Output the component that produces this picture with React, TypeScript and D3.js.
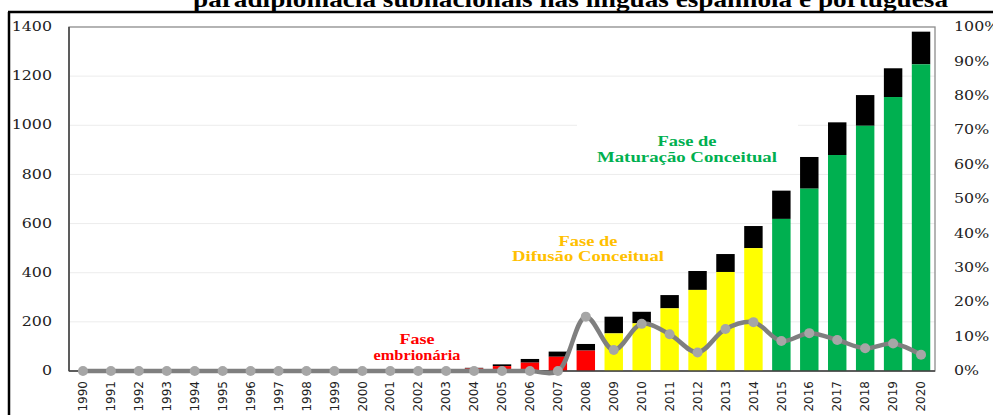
import * as d3 from 'd3'

const W = 993
const H = 415
// plot frame in pixels
const X0 = 69
const X1 = 935
const Y0 = 27
const Y1 = 371

const years = d3.range(1990, 2021).map(String)
// colored lower part of each bar (publications per phase)
const baseValues = [0, 0, 0, 0, 0, 0, 0, 0, 0, 0, 0, 0, 0, 2, 10, 20, 34, 58, 83, 153, 194, 255, 330, 403, 500, 619, 742, 879, 998, 1115, 1248]
// bar totals (black cap = total - base)
const totalValues = [0, 0, 0, 0, 0, 0, 0, 0, 0, 0, 0, 0, 0, 6, 13, 27, 49, 79, 110, 221, 241, 309, 407, 476, 590, 734, 871, 1012, 1123, 1232, 1381]
// growth rate line, right axis (%)
const pctValues = [0, 0, 0, 0, 0, 0, 0, 0, 0, 0, 0, 0, 0, 0, 0, 0, 0, 0, 15.8, 6.1, 13.7, 10.7, 5.4, 12.2, 14.2, 8.7, 11.0, 9.0, 6.6, 8.0, 4.7]

const leftTicks = [0, 200, 400, 600, 800, 1000, 1200, 1400]
const rightTicks = [0, 10, 20, 30, 40, 50, 60, 70, 80, 90, 100]

const RED = '#ff0000'
const YELLOW = '#ffff00'
const GREEN = '#00b050'

function phaseColor(year: number): string {
  if (year <= 2008) return RED
  if (year <= 2014) return YELLOW
  return GREEN
}

const LABEL_FONT = 'DejaVu Sans, sans-serif'
const TICK_FONT = 'DejaVu Serif, serif'
const SERIF = 'Liberation Serif, Times New Roman, serif'

export default function App() {
  const x = d3.scaleBand<string>().domain(years).range([X0, X1]).paddingInner(0.34).paddingOuter(0.17)
  const y = d3.scaleLinear().domain([0, 1400]).range([Y1, Y0])
  const yPct = d3.scaleLinear().domain([0, 100]).range([Y1, Y0])
  const bw = x.bandwidth()
  const cx = (yr: string) => (x(yr) ?? 0) + bw / 2

  const line = d3
    .line<number>()
    .x((_, i) => cx(years[i]))
    .y((d) => yPct(d))
    .curve(d3.curveCatmullRom.alpha(0.5))

  return (
    <div style={{ position: 'fixed', left: 0, top: 0 }}>
      <svg width={W} height={H} style={{ display: 'block', background: '#fff' }}>
        {/* title, cut off at top */}
        <text
          x={193}
          y={7}
          textLength={755}
          lengthAdjust="spacingAndGlyphs"
          fontFamily={SERIF}
          fontWeight="bold"
          fontSize={24}
          fill="#000"
        >
          paradiplomacia subnacionais nas línguas espanhola e portuguesa
        </text>
        {/* outer black frame */}
        <line x1={8} y1={12} x2={W} y2={12} stroke="#000" strokeWidth={2.5} />
        <line x1={9} y1={12} x2={9} y2={H} stroke="#000" strokeWidth={2.5} />

        {/* grid lines */}
        {leftTicks.slice(1, -1).map((t) => (
          <line key={t} x1={X0} x2={X1} y1={y(t)} y2={y(t)} stroke="#ececec" strokeWidth={1} />
        ))}

        {/* white box behind the maturation label */}
        <rect x={577} y={108} width={221} height={60} fill="#fff" />

        {/* plot frame */}
        <rect x={X0} y={Y0} width={X1 - X0} height={Y1 - Y0} fill="none" stroke="#8c8c8c" strokeWidth={1.3} />

        {/* stacked bars */}
        {years.map((yr, i) => {
          const total = totalValues[i]
          const base = baseValues[i]
          if (total <= 0) return null
          const bx = x(yr) ?? 0
          return (
            <g key={yr}>
              <rect x={bx} y={y(total)} width={bw} height={y(base) - y(total)} fill="#000" />
              {base > 0 && (
                <rect x={bx} y={y(base)} width={bw} height={y(0) - y(base)} fill={phaseColor(+yr)} />
              )}
            </g>
          )
        })}

        {/* axes lines */}
        <line x1={X0} x2={X0} y1={Y0} y2={Y1} stroke="#404040" strokeWidth={1.5} />
        <line x1={X0} x2={X1} y1={Y1} y2={Y1} stroke="#404040" strokeWidth={1.5} />

        {/* left axis labels */}
        {leftTicks.map((t) => (
          <text
            key={t}
            transform={`translate(52,${y(t)}) scale(1.32,1)`}
            dy="0.35em"
            textAnchor="end"
            fontFamily={TICK_FONT}
            fontSize={12}
            fill="#222"
          >
            {t}
          </text>
        ))}

        {/* right axis labels */}
        {rightTicks.map((t) => (
          <text
            key={t}
            transform={`translate(954,${yPct(t)}) scale(1.32,1)`}
            dy="0.35em"
            fontFamily={TICK_FONT}
            fontSize={12}
            fill="#222"
          >
            {t}%
          </text>
        ))}

        {/* x labels, rotated */}
        {years.map((yr) => (
          <text
            key={yr}
            transform={`translate(${cx(yr)},${Y1 + 10}) rotate(-90)`}
            textAnchor="end"
            dy="0.35em"
            fontFamily={LABEL_FONT}
            fontSize={12}
            fill="#222"
          >
            {yr}
          </text>
        ))}

        {/* growth line */}
        <path d={line(pctValues) ?? ''} fill="none" stroke="#7f7f7f" strokeWidth={4.5} strokeLinejoin="round" />
        {pctValues.map((v, i) => (
          <circle key={years[i]} cx={cx(years[i])} cy={yPct(v)} r={5} fill="#a6a6a6" />
        ))}

        {/* phase annotations */}
        <g fontFamily={SERIF} fontWeight="bold" fontSize={14} textAnchor="middle">
          <text x={417} y={344} fill={RED} textLength={35} lengthAdjust="spacingAndGlyphs">Fase</text>
          <text x={417} y={360} fill={RED} textLength={87} lengthAdjust="spacingAndGlyphs">embrionária</text>
          <text x={588} y={246} fill="#ffc000" textLength={59} lengthAdjust="spacingAndGlyphs">Fase de</text>
          <text x={588} y={261} fill="#ffc000" textLength={152} lengthAdjust="spacingAndGlyphs">Difusão Conceitual</text>
          <text x={687} y={146} fill={GREEN} textLength={59} lengthAdjust="spacingAndGlyphs">Fase de</text>
          <text x={687} y={162} fill={GREEN} textLength={180} lengthAdjust="spacingAndGlyphs">Maturação Conceitual</text>
        </g>
      </svg>
    </div>
  )
}
